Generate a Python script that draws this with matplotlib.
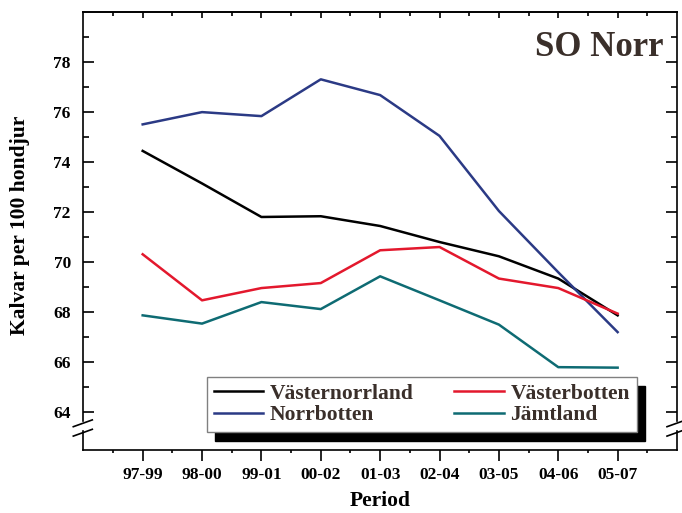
import numpy as np
import matplotlib
matplotlib.use('Agg')
import matplotlib.pyplot as plt
from matplotlib.ticker import FixedLocator

periods = ['97-99', '98-00', '99-01', '00-02', '01-03', '02-04', '03-05', '04-06', '05-07']
vasternorrland = [74.45, 73.15, 71.81, 71.84, 71.45, 70.81, 70.24, 69.35, 67.88]
vasterbotten = [70.32, 68.48, 68.97, 69.17, 70.48, 70.61, 69.35, 68.97, 67.95]
norrbotten = [75.51, 76.00, 75.84, 77.31, 76.68, 75.05, 72.05, 69.60, 67.21]
jamtland = [67.88, 67.55, 68.41, 68.13, 69.44, 68.48, 67.51, 65.81, 65.79]

plt.rcParams.update({'font.family': 'Liberation Serif', 'font.weight': 'bold',
                     'axes.labelweight': 'bold'})

W, H = 682, 513
fig = plt.figure(figsize=(W / 100, H / 100), dpi=100)
ax = fig.add_axes([83.3 / W, 1 - 450 / H, (677 - 83.3) / W, (450 - 12) / H])

x = np.arange(len(periods))
ax.plot(x, vasternorrland, color='black', lw=1.8, label='Västernorrland')
ax.plot(x, norrbotten, color='#2b3a85', lw=1.8, label='Norrbotten')
ax.plot(x, vasterbotten, color='#e3182d', lw=1.8, label='Västerbotten')
ax.plot(x, jamtland, color='#0e6b73', lw=1.8, label='Jämtland')

ax.set_xlim(-1, 9)
ax.set_ylim(62.5, 80)
ax.set_xticks(x)
ax.set_xticklabels(periods)
ax.xaxis.set_minor_locator(FixedLocator(np.arange(-0.5, 9, 1)))
ax.set_yticks(np.arange(64, 79, 2))
ax.yaxis.set_minor_locator(FixedLocator(np.arange(65, 80, 2)))

ax.tick_params(axis='y', which='both', direction='in', left=True, right=True, labelsize=12.5, width=1.2)
ax.tick_params(axis='y', which='major', length=8, pad=9)
ax.tick_params(axis='y', which='minor', length=4)
ax.tick_params(axis='x', which='major', direction='out', length=8, width=1.2, labelsize=12.5, pad=4)
ax.tick_params(axis='x', which='minor', direction='out', length=2.5, width=1.2)

# top axis: small inward ticks, no labels
top = ax.secondary_xaxis('top')
top.set_xticks(x)
top.xaxis.set_minor_locator(FixedLocator(np.arange(-0.5, 9, 1)))
top.tick_params(which='both', direction='in', labeltop=False, width=1.2)
top.tick_params(which='major', length=4)
top.tick_params(which='minor', length=3)
top.spines['top'].set_linewidth(1.2)

ax.set_xlabel('Period', fontsize=15.5, va='center')
ax.xaxis.set_label_coords(0.5, (450 - 501) / 438)
ax.set_ylabel('Kalvar per 100 hondjur', fontsize=15.5, va='center')
ax.yaxis.set_label_coords((20 - 83.3) / 593.7, (450 - 225) / 438)

# broken y axis: draw side spines by hand with a gap
ax.spines['left'].set_visible(False)
ax.spines['right'].set_visible(False)
ax.spines['top'].set_linewidth(1.2)
ax.spines['bottom'].set_linewidth(1.2)
hpx = 438.0
wpx = 593.7
gap_top = (450 - 421) / hpx
gap_bot = (450 - 431) / hpx
for xs in (0, 1):
    ax.plot([xs, xs], [gap_top, 1], transform=ax.transAxes, color='black', lw=1.2, clip_on=False)
    ax.plot([xs, xs], [0, gap_bot], transform=ax.transAxes, color='black', lw=1.2, clip_on=False)
    for y0 in (423.3, 432.7):
        ax.plot([xs - 10 / wpx, xs + 9 / wpx],
                [(450 - (y0 + 3.4)) / hpx, (450 - (y0 - 3.4)) / hpx],
                transform=ax.transAxes, color='black', lw=1.2, clip_on=False)

ax.text(0.978, 0.92, 'SO Norr', transform=ax.transAxes, ha='right', va='center',
        fontsize=25, color='#3a2f2a')

leg = ax.legend(ncol=2, loc='lower left', bbox_to_anchor=(0.208, 0.041), borderaxespad=0,
                fontsize=15.5, handlelength=2.3, handletextpad=0.3, columnspacing=1.9,
                labelspacing=0.05, borderpad=0.32, fancybox=False, framealpha=1,
                edgecolor='#808080', shadow={'ox': 6, 'oy': -6.5, 'color': 'black', 'alpha': 1})
leg.get_frame().set_linewidth(1.0)
for t in leg.get_texts():
    t.set_color('#3a2f2a')

fig.savefig('out.png', dpi=100)
